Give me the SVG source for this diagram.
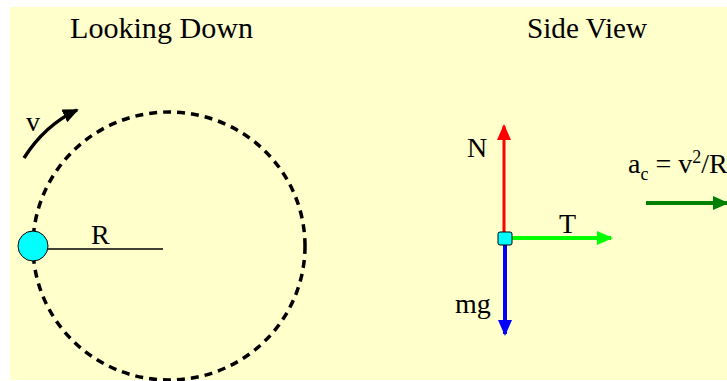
<svg xmlns="http://www.w3.org/2000/svg" width="727" height="381" viewBox="0 0 727 381">
<defs>
<style>
text{font-family:"Liberation Serif","Times New Roman",serif;font-size:28px;fill:#000}
.title{font-size:30px}
.sub{font-size:18px}
</style>
<marker id="ahK" markerUnits="userSpaceOnUse" markerWidth="16" markerHeight="14" refX="14" refY="7" orient="auto"><path d="M0,0 L16,7 L0,14 Z" fill="#000"/></marker>
<marker id="ahR" markerUnits="userSpaceOnUse" markerWidth="16" markerHeight="14" refX="14" refY="7" orient="auto"><path d="M0,0 L16,7 L0,14 Z" fill="#ff0000"/></marker>
<marker id="ahB" markerUnits="userSpaceOnUse" markerWidth="16" markerHeight="14" refX="14" refY="7" orient="auto"><path d="M0,0 L16,7 L0,14 Z" fill="#0000ff"/></marker>
<marker id="ahG" markerUnits="userSpaceOnUse" markerWidth="16" markerHeight="14" refX="14" refY="7" orient="auto"><path d="M0,0 L16,7 L0,14 Z" fill="#00ff00"/></marker>
<marker id="ahD" markerUnits="userSpaceOnUse" markerWidth="16" markerHeight="14" refX="14" refY="7" orient="auto"><path d="M0,0 L16,7 L0,14 Z" fill="#008000"/></marker>
</defs>
<rect x="0" y="0" width="727" height="381" fill="#ffffff"/>
<rect x="10" y="7" width="717" height="373" fill="#ffffcc"/>
<g id="titles">
<text class="title" x="70" y="38" textLength="183" lengthAdjust="spacingAndGlyphs">Looking Down</text>
<text class="title" x="527" y="38" textLength="120" lengthAdjust="spacingAndGlyphs">Side View</text>
</g>
<g id="orbit">
<ellipse cx="169" cy="246" rx="136" ry="134" fill="none" stroke="#000" stroke-width="3.5" stroke-dasharray="8,6"/>
</g>
<g id="connectors">
<line x1="47" y1="249" x2="163" y2="249" stroke="#000" stroke-width="1.5"/>
<path d="M24,158 Q45,125 77,110" fill="none" stroke="#000" stroke-width="3.5" marker-end="url(#ahK)"/>
<line x1="504" y1="238" x2="504" y2="126" stroke="#ff0000" stroke-width="3" marker-end="url(#ahR)"/>
<line x1="505" y1="244" x2="505" y2="334" stroke="#0000ff" stroke-width="4" marker-end="url(#ahB)"/>
<line x1="512" y1="238" x2="611" y2="238" stroke="#00ff00" stroke-width="4" marker-end="url(#ahG)"/>
<line x1="646" y1="203" x2="727" y2="203" stroke="#008000" stroke-width="4" marker-end="url(#ahD)"/>
</g>
<g id="ball">
<circle cx="33" cy="246" r="15" fill="#00ffff" stroke="#000" stroke-width="1"/>
</g>
<g id="block">
<rect x="498" y="232" width="14" height="13" rx="2" fill="#00ffff" stroke="#000" stroke-width="1"/>
</g>
<g id="labels">
<text x="26" y="131">v</text>
<text x="91" y="244">R</text>
<text x="467" y="157">N</text>
<text x="455" y="313">mg</text>
<text x="559" y="233">T</text>
<text x="628" y="173">a<tspan class="sub" dy="7">c</tspan><tspan dy="-7"> = v</tspan><tspan class="sub" dy="-10">2</tspan><tspan dy="10">/R</tspan></text>
</g>
</svg>
